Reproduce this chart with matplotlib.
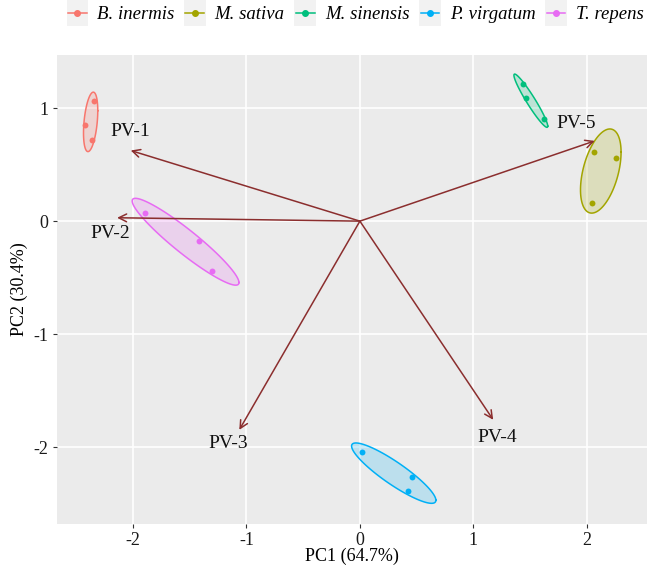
import numpy as np
import matplotlib
matplotlib.use("Agg")
import matplotlib.pyplot as plt
from matplotlib.patches import Polygon, Rectangle
from matplotlib.lines import Line2D
from matplotlib.legend_handler import HandlerLine2D

# sample scores on PC1 / PC2, three per species
species = ["B. inermis", "M. sativa", "M. sinensis", "P. virgatum", "T. repens"]
colors = ["#F8766D", "#A3A500", "#00BF7D", "#00B0F6", "#E76BF3"]
pc1 = {
    "B. inermis": [-2.34, -2.42, -2.36],
    "M. sativa": [2.06, 2.26, 2.05],
    "M. sinensis": [1.44, 1.46, 1.62],
    "P. virgatum": [0.015, 0.46, 0.42],
    "T. repens": [-1.89, -1.42, -1.30],
}
pc2 = {
    "B. inermis": [1.065, 0.85, 0.72],
    "M. sativa": [0.61, 0.56, 0.16],
    "M. sinensis": [1.21, 1.087, 0.90],
    "P. virgatum": [-2.04, -2.26, -2.39],
    "T. repens": [0.069, -0.176, -0.44],
}

# variable loadings (arrows)
var_names = ["PV-1", "PV-2", "PV-3", "PV-4", "PV-5"]
load_x = [-2.02, -2.14, -1.063, 1.175, 2.07]
load_y = [0.625, 0.03, -1.847, -1.758, 0.71]
lab_dx = [0.0, -0.06, -0.10, 0.035, -0.16]
lab_dy = [0.165, -0.14, -0.125, -0.155, 0.15]

arrow_col = "#8B2E2E"
ell_prob = 0.68


def ellipse_pts(x, y, prob=ell_prob, n=100):
    xy = np.column_stack([x, y])
    mu = xy.mean(axis=0)
    sigma = np.cov(xy, rowvar=False)
    ed = np.sqrt(-2 * np.log(1 - prob))
    t = np.linspace(0, 2 * np.pi, n)
    circ = np.column_stack([np.cos(t), np.sin(t)])
    L = np.linalg.cholesky(sigma)
    return circ @ L.T * ed + mu


class KeyHandler(HandlerLine2D):
    def create_artists(self, legend, orig_handle, xdescent, ydescent,
                       width, height, fontsize, trans):
        bg = Rectangle((-xdescent - 1, -ydescent - 5), width + 2, height + 10,
                       facecolor="#F2F2F2", edgecolor="none", transform=trans)
        arts = super().create_artists(legend, orig_handle, xdescent, ydescent,
                                      width, height, fontsize, trans)
        return [bg] + arts


plt.rcParams["font.family"] = ["Liberation Serif", "DejaVu Serif"]
plt.rcParams["axes.unicode_minus"] = False

fig = plt.figure(figsize=(6.49, 5.66), dpi=100)
ax = fig.add_axes([0.0878, 0.0742, 0.909, 0.8286])
ax.set_facecolor("#EBEBEB")

for sp, c in zip(species, colors):
    e = ellipse_pts(pc1[sp], pc2[sp])
    ax.add_patch(Polygon(e, closed=True, facecolor=c, alpha=0.2, edgecolor="none", zorder=2))
    ax.plot(np.append(e[:, 0], e[0, 0]), np.append(e[:, 1], e[0, 1]), color=c, lw=1.1, zorder=3)
    ax.scatter(pc1[sp], pc2[sp], color=c, s=18, zorder=4, linewidths=0)

for i, name in enumerate(var_names):
    ax.annotate("", xy=(load_x[i], load_y[i]), xytext=(0, 0),
                arrowprops=dict(arrowstyle="->", color=arrow_col, lw=1.1,
                                shrinkA=0, shrinkB=0, mutation_scale=14),
                zorder=5)
    ax.text(load_x[i] + lab_dx[i], load_y[i] + lab_dy[i], name, fontsize=14,
            ha="center", va="center", color="#111111", zorder=6)

ax.set_xlim(-2.67, 2.53)
ax.set_ylim(-2.68, 1.47)
ax.set_xticks([-2, -1, 0, 1, 2])
ax.set_yticks([-2, -1, 0, 1])
ax.grid(True, color="white", lw=1.2)
ax.set_axisbelow(True)
for s in ax.spines.values():
    s.set_visible(False)
ax.tick_params(length=3, color="#333333", labelsize=13, labelcolor="#1a1a1a", pad=3)
ax.set_xlabel("PC1 (64.7%)", fontsize=13, labelpad=-1)
ax.set_ylabel("PC2 (30.4%)", fontsize=13, labelpad=4)

handles = [Line2D([], [], color=c, marker="o", markersize=4, lw=1.1) for c in colors]
fig.legend(handles, species, loc="center", bbox_to_anchor=(0.548, 0.974), ncol=5,
           frameon=False, handler_map={Line2D: KeyHandler()},
           prop={"style": "italic", "size": 13.5}, handlelength=1.0,
           columnspacing=0.6, handletextpad=0.55, borderpad=0.2)

fig.savefig("out.png", dpi=100)
